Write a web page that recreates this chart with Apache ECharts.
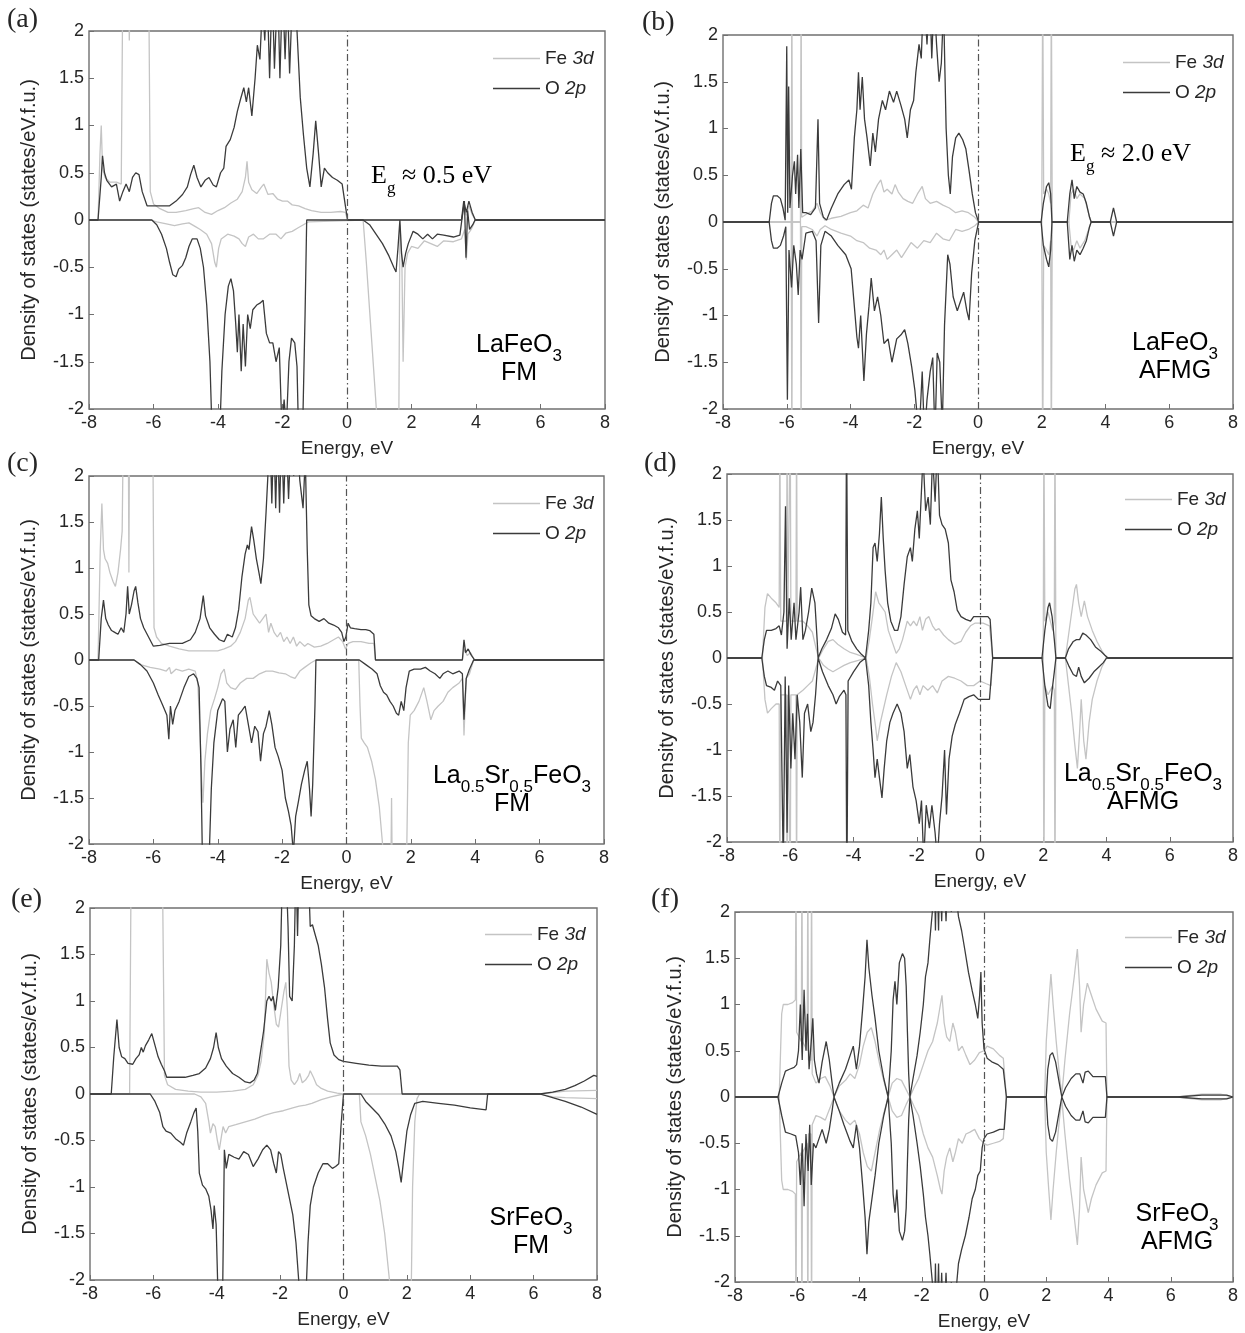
<!DOCTYPE html>
<html>
<head>
<meta charset="utf-8">
<title>Fe 3d / O 2p partial DOS</title>
<script src="https://cdn.jsdelivr.net/npm/echarts@6/dist/echarts.min.js"></script>
<style>
  html, body { margin: 0; padding: 0; background: #fff; }
  #chart { width: 1245px; height: 1333px; }
</style>
</head>
<body>
<div id="chart"></div>
<script>
// ---------- axis ticks ----------
const energyTicks = [-8, -6, -4, -2, 0, 2, 4, 6, 8];
const dosTicks = [-2, -1.5, -1, -0.5, 0, 0.5, 1, 1.5, 2];

// ---------- (a) LaFeO3, FM ----------  [energy (eV), DOS (states/eV f.u.)]
const aFeUp = [[-8,0],[-7.72,0],[-7.66,0.7],[-7.62,1.0],[-7.58,0.55],[-7.5,0.45],[-7.35,0.4],[-7.15,0.4],[-7.0,0.38],[-6.95,2.6],[-6.78,2.6],[-6.75,1.9],[-6.72,2.6],[-6.15,2.6],[-6.1,0.3],[-6.0,0.17],[-5.8,0.12],[-5.55,0.08],[-5.3,0.08],[-5.0,0.1],[-4.75,0.12],[-4.6,0.13],[-4.4,0.08],[-4.2,0.06],[-4.0,0.1],[-3.8,0.13],[-3.6,0.18],[-3.4,0.22],[-3.25,0.3],[-3.15,0.45],[-3.1,0.62],[-3.05,0.4],[-2.95,0.32],[-2.8,0.28],[-2.65,0.35],[-2.58,0.38],[-2.45,0.27],[-2.3,0.28],[-2.15,0.22],[-2.0,0.2],[-1.85,0.2],[-1.7,0.16],[-1.5,0.15],[-1.3,0.12],[-1.1,0.1],[-0.8,0.08],[-0.5,0.08],[-0.2,0.09],[-0.05,0.08],[0.02,0],[3.55,0],[3.62,0.12],[3.7,0.05],[3.78,0.15],[3.88,0.06],[3.98,0],[8,0]];
const aFeDn = [[-8,0],[-6.1,0],[-5.9,-0.02],[-5.6,-0.04],[-5.35,-0.06],[-5.1,-0.04],[-4.9,-0.03],[-4.7,-0.07],[-4.55,-0.1],[-4.35,-0.15],[-4.2,-0.25],[-4.1,-0.45],[-4.05,-0.5],[-3.98,-0.3],[-3.9,-0.2],[-3.7,-0.15],[-3.5,-0.17],[-3.35,-0.2],[-3.25,-0.25],[-3.15,-0.28],[-3.05,-0.18],[-2.9,-0.15],[-2.75,-0.2],[-2.6,-0.2],[-2.4,-0.15],[-2.2,-0.15],[-2.05,-0.2],[-1.9,-0.14],[-1.7,-0.12],[-1.5,-0.08],[-1.35,-0.05],[-1.2,-0.02],[-1.15,0],[0.5,0],[0.6,-0.45],[0.75,-1.2],[0.93,-2.1],[1.0,-2.6],[1.6,-2.6],[1.64,-0.05],[1.7,-0.4],[1.74,-1.5],[1.8,-0.5],[1.88,-0.35],[2.0,-0.28],[2.2,-0.3],[2.4,-0.22],[2.6,-0.25],[2.8,-0.28],[3.0,-0.22],[3.3,-0.23],[3.55,-0.2],[3.65,-0.1],[3.7,-0.42],[3.75,-0.15],[3.85,-0.1],[3.98,0],[8,0]];
const aOUp = [[-8,0],[-7.72,0],[-7.62,0.45],[-7.58,0.68],[-7.52,0.5],[-7.45,0.42],[-7.3,0.35],[-7.15,0.38],[-7.05,0.2],[-6.95,0.3],[-6.85,0.38],[-6.75,0.3],[-6.65,0.45],[-6.55,0.5],[-6.45,0.48],[-6.35,0.3],[-6.2,0.15],[-6.0,0.15],[-5.8,0.15],[-5.5,0.15],[-5.3,0.2],[-5.1,0.27],[-4.95,0.35],[-4.85,0.48],[-4.75,0.58],[-4.65,0.45],[-4.53,0.35],[-4.4,0.42],[-4.28,0.45],[-4.15,0.37],[-4.05,0.35],[-3.92,0.5],[-3.82,0.55],[-3.75,0.78],[-3.62,0.85],[-3.5,0.98],[-3.4,1.15],[-3.3,1.28],[-3.2,1.4],[-3.12,1.25],[-3.05,1.4],[-2.95,1.1],[-2.85,1.5],[-2.78,1.85],[-2.7,1.7],[-2.62,2.3],[-2.55,1.9],[-2.48,2.5],[-2.4,1.5],[-2.32,2.5],[-2.25,1.6],[-2.15,2.5],[-2.08,1.5],[-2.0,2.5],[-1.92,1.7],[-1.85,2.4],[-1.78,1.55],[-1.7,2.3],[-1.62,2.5],[-1.55,2.0],[-1.45,1.3],[-1.35,0.9],[-1.25,0.55],[-1.15,0.35],[-1.05,0.7],[-0.97,1.05],[-0.88,0.7],[-0.8,0.35],[-0.7,0.55],[-0.6,0.5],[-0.45,0.45],[-0.3,0.42],[-0.15,0.38],[-0.05,0.15],[0.02,0],[3.55,0],[3.62,0.2],[3.7,0.08],[3.78,0.2],[3.88,0.08],[3.98,0],[8,0]];
const aODn = [[-8,0],[-6.05,0],[-5.9,-0.05],[-5.75,-0.15],[-5.6,-0.3],[-5.5,-0.45],[-5.4,-0.58],[-5.3,-0.6],[-5.22,-0.52],[-5.1,-0.48],[-5.0,-0.4],[-4.9,-0.28],[-4.8,-0.2],[-4.65,-0.2],[-4.55,-0.3],[-4.45,-0.5],[-4.35,-0.9],[-4.25,-1.5],[-4.18,-2.3],[-3.95,-2.3],[-3.88,-1.6],[-3.78,-1.0],[-3.68,-0.7],[-3.6,-0.62],[-3.52,-0.75],[-3.45,-1.1],[-3.4,-1.4],[-3.35,-1.0],[-3.28,-1.6],[-3.22,-1.1],[-3.15,-1.55],[-3.08,-1.0],[-3.0,-1.15],[-2.92,-0.95],[-2.8,-0.9],[-2.7,-0.88],[-2.6,-0.85],[-2.5,-1.2],[-2.4,-1.3],[-2.3,-1.3],[-2.2,-1.5],[-2.1,-1.35],[-2.02,-2.2],[-1.95,-1.9],[-1.88,-2.2],[-1.8,-1.5],[-1.72,-1.25],[-1.62,-1.3],[-1.55,-1.55],[-1.5,-2.3],[-1.38,-2.3],[-1.3,-1.0],[-1.25,0],[0.5,0],[0.7,-0.05],[0.9,-0.15],[1.1,-0.25],[1.3,-0.38],[1.45,-0.5],[1.52,-0.55],[1.58,-0.3],[1.64,0],[1.69,-0.35],[1.74,-0.5],[1.82,-0.35],[1.9,-0.25],[2.05,-0.12],[2.2,-0.15],[2.35,-0.2],[2.5,-0.15],[2.65,-0.2],[2.8,-0.15],[3.0,-0.16],[3.3,-0.18],[3.5,-0.16],[3.58,0.05],[3.64,0.2],[3.69,-0.4],[3.74,0.1],[3.8,-0.1],[3.9,-0.05],[3.97,0],[8,0]];

// ---------- (b) LaFeO3, AFMG ----------
const bFeUp = [[-8,0],[-5.86,0],[-5.84,2.6],[-5.82,0],[-5.57,0],[-5.55,2.6],[-5.53,0.05],[-5.4,0.08],[-5.2,0.12],[-5.05,0.2],[-4.95,0.1],[-4.8,0.02],[-4.6,0.04],[-4.3,0.06],[-4.0,0.1],[-3.8,0.12],[-3.6,0.18],[-3.45,0.15],[-3.3,0.3],[-3.15,0.4],[-3.05,0.45],[-2.95,0.32],[-2.85,0.35],[-2.7,0.3],[-2.6,0.4],[-2.5,0.32],[-2.35,0.25],[-2.2,0.22],[-2.05,0.2],[-1.9,0.3],[-1.75,0.38],[-1.65,0.25],[-1.5,0.2],[-1.3,0.22],[-1.1,0.18],[-0.9,0.15],[-0.7,0.1],[-0.5,0.12],[-0.3,0.1],[-0.1,0.05],[0.02,0],[2.0,0],[2.03,2.6],[2.06,0.3],[2.15,0.35],[2.22,0.3],[2.28,0.2],[2.3,2.6],[2.33,0],[2.85,0],[2.92,0.3],[3.0,0.35],[3.1,0.25],[3.2,0.3],[3.35,0.25],[3.5,0.05],[3.55,0],[8,0]];
const bFeDn = [[-8,0],[-5.86,0],[-5.84,-2.6],[-5.82,0],[-5.57,0],[-5.55,-2.6],[-5.53,-0.05],[-5.4,-0.05],[-5.2,-0.08],[-5.05,-0.15],[-4.95,-0.08],[-4.8,-0.04],[-4.6,-0.08],[-4.3,-0.12],[-4.0,-0.15],[-3.8,-0.2],[-3.6,-0.22],[-3.4,-0.28],[-3.2,-0.3],[-3.05,-0.35],[-2.95,-0.3],[-2.85,-0.4],[-2.7,-0.35],[-2.55,-0.3],[-2.4,-0.38],[-2.25,-0.3],[-2.1,-0.22],[-1.9,-0.28],[-1.7,-0.2],[-1.5,-0.22],[-1.3,-0.12],[-1.1,-0.18],[-0.9,-0.2],[-0.7,-0.08],[-0.5,-0.1],[-0.3,-0.08],[-0.1,-0.04],[0.02,0],[2.0,0],[2.03,-2.6],[2.06,-0.25],[2.15,-0.3],[2.22,-0.35],[2.28,-0.2],[2.3,-2.6],[2.33,0],[2.85,0],[2.92,-0.25],[3.0,-0.3],[3.1,-0.2],[3.2,-0.28],[3.35,-0.2],[3.5,-0.05],[3.55,0],[8,0]];
const bOUp = [[-8,0],[-6.55,0],[-6.48,0.2],[-6.42,0.28],[-6.3,0.28],[-6.2,0.25],[-6.12,0.15],[-6.05,0.02],[-6.0,1.88],[-5.97,0.1],[-5.94,1.45],[-5.9,0.15],[-5.82,0.5],[-5.76,0.65],[-5.72,0.3],[-5.66,0.72],[-5.62,0.15],[-5.56,0.78],[-5.5,0.1],[-5.4,0.1],[-5.25,0.08],[-5.1,0.15],[-5.02,1.1],[-4.97,0.2],[-4.85,0.05],[-4.75,0.02],[-4.6,0.15],[-4.4,0.3],[-4.2,0.4],[-4.05,0.45],[-3.97,0.35],[-3.88,0.9],[-3.8,1.2],[-3.75,1.6],[-3.7,1.2],[-3.63,1.55],[-3.56,1.1],[-3.48,0.9],[-3.38,0.6],[-3.3,0.95],[-3.22,0.75],[-3.12,1.1],[-3.0,1.3],[-2.9,1.2],[-2.78,1.4],[-2.65,1.28],[-2.55,1.4],[-2.42,1.25],[-2.3,1.1],[-2.22,0.9],[-2.12,1.2],[-2.02,1.3],[-1.95,1.6],[-1.85,1.9],[-1.78,1.75],[-1.7,2.5],[-1.6,1.9],[-1.52,2.5],[-1.45,1.75],[-1.38,2.4],[-1.3,1.9],[-1.22,1.5],[-1.15,1.7],[-1.08,2.3],[-1.0,1.0],[-0.93,0.5],[-0.87,0.3],[-0.8,0.7],[-0.7,0.9],[-0.6,0.95],[-0.48,0.88],[-0.38,0.78],[-0.28,0.55],[-0.18,0.3],[-0.08,0.1],[0.02,0],[1.98,0],[2.05,0.2],[2.15,0.38],[2.22,0.42],[2.28,0.3],[2.32,0],[2.8,0],[2.88,0.3],[2.95,0.45],[3.02,0.25],[3.1,0.38],[3.2,0.32],[3.3,0.3],[3.4,0.2],[3.5,0.05],[3.55,0],[4.15,0],[4.25,0.15],[4.35,0],[8,0]];
const bODn = [[-8,0],[-6.55,0],[-6.48,-0.2],[-6.42,-0.28],[-6.3,-0.28],[-6.2,-0.25],[-6.1,-0.15],[-6.03,-0.05],[-5.98,-1.9],[-5.93,-0.3],[-5.85,-0.7],[-5.78,-0.25],[-5.7,-0.45],[-5.64,-0.78],[-5.58,-0.3],[-5.52,-0.4],[-5.4,-0.12],[-5.2,-0.1],[-5.08,-0.2],[-5.0,-1.08],[-4.93,-0.25],[-4.8,-0.1],[-4.6,-0.15],[-4.4,-0.25],[-4.15,-0.35],[-3.98,-0.5],[-3.88,-0.9],[-3.8,-1.23],[-3.75,-1.35],[-3.68,-1.0],[-3.58,-1.7],[-3.5,-1.2],[-3.42,-0.9],[-3.35,-0.6],[-3.25,-0.95],[-3.15,-0.8],[-3.05,-1.0],[-2.95,-1.3],[-2.82,-1.25],[-2.7,-1.5],[-2.55,-1.25],[-2.4,-1.2],[-2.3,-1.15],[-2.2,-1.3],[-2.08,-1.55],[-1.98,-1.8],[-1.85,-2.3],[-1.75,-1.6],[-1.68,-2.3],[-1.6,-1.9],[-1.5,-1.6],[-1.42,-1.45],[-1.35,-2.3],[-1.28,-1.4],[-1.2,-1.5],[-1.12,-2.2],[-1.05,-1.1],[-0.95,-0.35],[-0.88,-0.45],[-0.78,-0.8],[-0.65,-0.95],[-0.55,-0.85],[-0.45,-0.75],[-0.35,-0.95],[-0.28,-1.05],[-0.2,-0.55],[-0.1,-0.2],[0.02,0],[1.98,0],[2.05,-0.25],[2.15,-0.4],[2.22,-0.48],[2.28,-0.3],[2.32,0],[2.8,0],[2.88,-0.4],[2.95,-0.25],[3.02,-0.42],[3.1,-0.3],[3.2,-0.35],[3.3,-0.28],[3.4,-0.2],[3.5,-0.05],[3.55,0],[4.15,0],[4.25,-0.15],[4.35,0],[8,0]];

// ---------- (c) La0.5Sr0.5FeO3, FM ----------
const cFeUp = [[-8,0],[-7.72,0],[-7.65,1.2],[-7.6,1.7],[-7.55,1.2],[-7.5,1.1],[-7.42,1.05],[-7.35,0.95],[-7.25,0.85],[-7.18,0.8],[-7.1,0.95],[-7.02,1.2],[-6.97,1.4],[-6.93,2.6],[-6.78,2.6],[-6.76,0.95],[-6.74,2.6],[-6.02,2.6],[-5.98,0.35],[-5.9,0.25],[-5.75,0.18],[-5.5,0.15],[-5.2,0.12],[-4.9,0.1],[-4.6,0.1],[-4.3,0.1],[-4.0,0.1],[-3.8,0.12],[-3.6,0.15],[-3.45,0.2],[-3.3,0.3],[-3.15,0.45],[-3.05,0.65],[-3.0,0.68],[-2.9,0.5],[-2.8,0.45],[-2.7,0.4],[-2.6,0.45],[-2.5,0.5],[-2.42,0.3],[-2.35,0.4],[-2.25,0.3],[-2.15,0.25],[-2.05,0.3],[-1.95,0.2],[-1.85,0.25],[-1.75,0.18],[-1.65,0.25],[-1.55,0.15],[-1.45,0.2],[-1.3,0.15],[-1.2,0.18],[-1.0,0.14],[-0.8,0.15],[-0.6,0.18],[-0.4,0.22],[-0.25,0.25],[-0.12,0.2],[-0.03,0.12],[0.05,0.18],[0.2,0.2],[0.45,0.2],[0.7,0.18],[0.85,0.18],[0.9,0],[3.6,0],[3.65,0.12],[3.75,0.05],[3.85,0.08],[3.98,0],[8,0]];
const cFeDn = [[-8,0],[-6.6,0],[-6.4,-0.05],[-6.1,-0.08],[-5.8,-0.1],[-5.6,-0.12],[-5.5,-0.08],[-5.45,-0.15],[-5.3,-0.1],[-5.1,-0.12],[-4.9,-0.1],[-4.7,-0.12],[-4.62,-0.25],[-4.55,-0.8],[-4.5,-1.3],[-4.46,-1.55],[-4.4,-1.1],[-4.32,-0.8],[-4.22,-0.55],[-4.1,-0.42],[-4.0,-0.3],[-3.9,-0.15],[-3.8,-0.1],[-3.72,-0.25],[-3.6,-0.3],[-3.45,-0.32],[-3.3,-0.25],[-3.1,-0.2],[-2.9,-0.2],[-2.7,-0.15],[-2.5,-0.12],[-2.3,-0.12],[-2.1,-0.14],[-1.9,-0.15],[-1.75,-0.18],[-1.6,-0.2],[-1.45,-0.12],[-1.3,-0.08],[-1.1,-0.03],[-0.95,0],[0.38,0],[0.42,-0.5],[0.46,-0.85],[0.55,-0.9],[0.65,-0.95],[0.78,-1.1],[0.9,-1.3],[1.02,-1.6],[1.12,-2.0],[1.2,-2.6],[1.37,-2.6],[1.4,-1.5],[1.43,-2.6],[1.85,-2.6],[1.92,-0.9],[1.98,-0.6],[2.1,-0.55],[2.25,-0.45],[2.4,-0.3],[2.5,-0.45],[2.62,-0.65],[2.72,-0.55],[2.85,-0.5],[3.0,-0.45],[3.15,-0.35],[3.3,-0.3],[3.5,-0.25],[3.6,-0.2],[3.65,-0.82],[3.72,-0.2],[3.82,-0.15],[3.95,0],[8,0]];
const cOUp = [[-8,0],[-7.7,0],[-7.62,0.45],[-7.55,0.65],[-7.48,0.45],[-7.4,0.38],[-7.3,0.32],[-7.2,0.3],[-7.1,0.28],[-7.0,0.35],[-6.92,0.3],[-6.85,0.5],[-6.8,0.8],[-6.75,0.5],[-6.68,0.6],[-6.6,0.75],[-6.55,0.8],[-6.48,0.62],[-6.4,0.45],[-6.3,0.35],[-6.15,0.25],[-6.0,0.15],[-5.8,0.16],[-5.5,0.18],[-5.1,0.18],[-4.85,0.22],[-4.7,0.3],[-4.55,0.45],[-4.45,0.7],[-4.38,0.48],[-4.25,0.35],[-4.1,0.28],[-3.95,0.22],[-3.8,0.2],[-3.7,0.28],[-3.55,0.25],[-3.45,0.35],[-3.35,0.55],[-3.25,0.9],[-3.15,1.15],[-3.08,1.25],[-3.03,1.2],[-2.95,1.45],[-2.88,1.3],[-2.8,1.1],[-2.72,0.95],[-2.66,0.83],[-2.58,1.1],[-2.5,1.6],[-2.45,1.95],[-2.38,2.5],[-2.32,1.7],[-2.26,2.5],[-2.2,1.65],[-2.14,2.5],[-2.08,1.6],[-2.02,2.5],[-1.95,1.7],[-1.88,2.5],[-1.8,1.75],[-1.72,2.5],[-1.64,2.0],[-1.55,2.5],[-1.45,1.95],[-1.35,1.65],[-1.28,2.2],[-1.22,1.2],[-1.17,0.6],[-1.1,0.48],[-1.0,0.45],[-0.85,0.42],[-0.7,0.45],[-0.55,0.4],[-0.4,0.38],[-0.25,0.35],[-0.15,0.3],[-0.08,0.2],[-0.02,0.25],[0.05,0.4],[0.12,0.35],[0.25,0.34],[0.45,0.33],[0.6,0.33],[0.72,0.32],[0.78,0.34],[0.85,0.28],[0.9,0],[3.6,0],[3.65,0.22],[3.7,0.08],[3.78,0.12],[3.88,0.05],[3.98,0],[8,0]];
const cODn = [[-8,0],[-6.6,0],[-6.4,-0.05],[-6.2,-0.12],[-6.0,-0.25],[-5.85,-0.38],[-5.7,-0.5],[-5.58,-0.6],[-5.52,-0.86],[-5.47,-0.5],[-5.4,-0.7],[-5.33,-0.55],[-5.2,-0.45],[-5.05,-0.3],[-4.9,-0.18],[-4.75,-0.15],[-4.65,-0.2],[-4.58,-0.3],[-4.52,-1.2],[-4.47,-2.3],[-4.28,-2.3],[-4.2,-1.4],[-4.12,-0.9],[-4.0,-0.55],[-3.85,-0.42],[-3.78,-0.45],[-3.7,-1.0],[-3.62,-0.75],[-3.52,-0.65],[-3.44,-0.95],[-3.36,-0.6],[-3.25,-0.55],[-3.15,-0.5],[-3.05,-0.7],[-2.95,-0.9],[-2.85,-0.72],[-2.75,-0.78],[-2.67,-1.1],[-2.58,-0.8],[-2.5,-0.72],[-2.4,-0.55],[-2.32,-0.7],[-2.22,-0.95],[-2.12,-1.05],[-2.0,-1.2],[-1.9,-1.5],[-1.8,-1.65],[-1.72,-1.8],[-1.65,-2.1],[-1.58,-1.7],[-1.5,-1.55],[-1.4,-1.35],[-1.3,-1.2],[-1.22,-1.1],[-1.15,-1.4],[-1.1,-1.7],[-1.05,-1.35],[-0.98,-0.5],[-0.95,0],[0.4,0],[0.6,-0.05],[0.8,-0.1],[0.95,-0.15],[1.05,-0.28],[1.15,-0.35],[1.25,-0.38],[1.35,-0.45],[1.45,-0.5],[1.55,-0.58],[1.62,-0.6],[1.7,-0.45],[1.78,-0.55],[1.85,-0.3],[1.95,-0.12],[2.1,-0.1],[2.3,-0.1],[2.45,-0.08],[2.6,-0.12],[2.75,-0.15],[2.9,-0.2],[3.0,-0.15],[3.15,-0.12],[3.3,-0.15],[3.5,-0.12],[3.6,-0.15],[3.65,-0.65],[3.72,-0.2],[3.82,-0.1],[3.95,0],[8,0]];

// ---------- (d) La0.5Sr0.5FeO3, AFMG ----------
const dFeUp = [[-8,0],[-6.88,0],[-6.8,0.55],[-6.72,0.7],[-6.6,0.65],[-6.45,0.6],[-6.35,0.55],[-6.33,2.6],[-6.3,0.4],[-6.12,0.4],[-6.1,2.6],[-6.08,0.4],[-6.02,0.4],[-6.0,2.6],[-5.98,0.4],[-5.82,0.4],[-5.8,2.6],[-5.78,0.4],[-5.6,0.4],[-5.45,0.35],[-5.3,0.28],[-5.18,0.1],[-5.1,0],[-4.95,0.1],[-4.8,0.18],[-4.65,0.2],[-4.5,0.15],[-4.3,0.1],[-4.1,0.06],[-3.9,0.04],[-3.6,0],[-3.5,0.2],[-3.4,0.45],[-3.3,0.72],[-3.2,0.6],[-3.1,0.55],[-3.0,0.5],[-2.9,0.3],[-2.8,0.2],[-2.65,0.05],[-2.55,0.1],[-2.45,0.2],[-2.3,0.4],[-2.2,0.35],[-2.1,0.4],[-2.0,0.35],[-1.9,0.45],[-1.82,0.3],[-1.72,0.42],[-1.62,0.45],[-1.5,0.35],[-1.4,0.3],[-1.3,0.32],[-1.15,0.25],[-1.0,0.2],[-0.8,0.15],[-0.6,0.18],[-0.45,0.28],[-0.3,0.35],[-0.15,0.38],[0.1,0.38],[0.3,0.35],[0.4,0],[2.0,0],[2.02,2.6],[2.05,0.4],[2.15,0.5],[2.3,0.3],[2.35,0.4],[2.37,2.6],[2.4,0],[2.7,0],[2.8,0.25],[2.9,0.5],[3.0,0.75],[3.05,0.8],[3.12,0.6],[3.2,0.45],[3.3,0.62],[3.4,0.45],[3.55,0.3],[3.7,0.18],[3.85,0.08],[4.0,0],[8,0]];
const dFeDn = [[-8,0],[-6.88,0],[-6.8,-0.45],[-6.72,-0.6],[-6.6,-0.55],[-6.45,-0.5],[-6.35,-0.5],[-6.33,-2.6],[-6.3,-0.4],[-6.12,-0.4],[-6.1,-2.6],[-6.08,-0.4],[-6.02,-0.4],[-6.0,-2.6],[-5.98,-0.4],[-5.82,-0.4],[-5.8,-2.6],[-5.78,-0.4],[-5.6,-0.35],[-5.45,-0.3],[-5.3,-0.25],[-5.18,-0.1],[-5.1,0],[-4.95,-0.08],[-4.8,-0.12],[-4.65,-0.15],[-4.5,-0.12],[-4.3,-0.08],[-4.1,-0.05],[-3.9,-0.03],[-3.6,0],[-3.5,-0.2],[-3.4,-0.5],[-3.3,-0.75],[-3.25,-0.9],[-3.15,-0.7],[-3.05,-0.55],[-2.95,-0.4],[-2.8,-0.2],[-2.65,-0.05],[-2.5,-0.15],[-2.35,-0.3],[-2.2,-0.45],[-2.1,-0.35],[-2.0,-0.3],[-1.9,-0.4],[-1.8,-0.3],[-1.65,-0.35],[-1.5,-0.3],[-1.35,-0.38],[-1.2,-0.25],[-1.0,-0.2],[-0.8,-0.22],[-0.6,-0.25],[-0.4,-0.3],[-0.2,-0.3],[0.0,-0.25],[0.2,-0.28],[0.35,-0.3],[0.4,0],[2.0,0],[2.02,-2.6],[2.05,-0.3],[2.15,-0.4],[2.3,-0.3],[2.35,-0.35],[2.37,-2.6],[2.4,0],[2.7,0],[2.8,-0.3],[2.9,-0.6],[3.0,-0.95],[3.08,-1.2],[3.15,-0.8],[3.2,-0.45],[3.28,-0.9],[3.35,-1.1],[3.45,-0.7],[3.55,-0.45],[3.7,-0.25],[3.85,-0.1],[4.0,0],[8,0]];
const dOUp = [[-8,0],[-6.9,0],[-6.82,0.2],[-6.75,0.3],[-6.6,0.3],[-6.45,0.32],[-6.35,0.35],[-6.28,0.25],[-6.2,0.5],[-6.15,1.65],[-6.1,0.1],[-6.03,0.65],[-5.97,0.2],[-5.88,0.6],[-5.82,0.2],[-5.72,0.5],[-5.67,0.77],[-5.6,0.2],[-5.52,0.3],[-5.42,0.5],[-5.32,0.76],[-5.22,0.6],[-5.15,0.2],[-5.12,0],[-5.0,0.1],[-4.85,0.2],[-4.7,0.32],[-4.58,0.48],[-4.48,0.42],[-4.35,0.28],[-4.25,0.25],[-4.22,2.6],[-4.18,0.3],[-4.05,0.18],[-3.9,0.1],[-3.75,0.04],[-3.62,0],[-3.52,0.3],[-3.45,0.6],[-3.38,1.2],[-3.32,1.25],[-3.25,1.05],[-3.18,1.35],[-3.12,1.75],[-3.06,1.3],[-3.0,0.95],[-2.92,0.6],[-2.82,0.4],[-2.7,0.3],[-2.6,0.3],[-2.5,0.45],[-2.4,0.8],[-2.3,1.1],[-2.2,1.2],[-2.14,1.05],[-2.06,1.4],[-1.98,1.6],[-1.92,1.3],[-1.86,1.75],[-1.8,2.2],[-1.72,1.6],[-1.64,1.75],[-1.57,1.45],[-1.5,2.2],[-1.42,1.7],[-1.35,2.3],[-1.28,1.55],[-1.2,1.45],[-1.1,1.4],[-1.0,1.25],[-0.92,0.85],[-0.82,0.72],[-0.72,0.52],[-0.6,0.45],[-0.45,0.42],[-0.3,0.4],[-0.2,0.45],[0.0,0.45],[0.25,0.45],[0.32,0.42],[0.4,0],[1.96,0],[2.05,0.3],[2.15,0.55],[2.2,0.6],[2.28,0.45],[2.35,0.2],[2.4,0],[2.7,0],[2.8,0.1],[2.95,0.18],[3.05,0.2],[3.15,0.2],[3.25,0.27],[3.35,0.25],[3.5,0.2],[3.65,0.12],[3.8,0.08],[3.95,0.03],[4.05,0],[8,0]];
const dODn = [[-8,0],[-6.9,0],[-6.82,-0.2],[-6.75,-0.3],[-6.6,-0.32],[-6.5,-0.35],[-6.4,-0.25],[-6.3,-0.3],[-6.22,-2.3],[-6.16,-0.2],[-6.1,-1.9],[-6.05,-0.3],[-5.98,-1.2],[-5.92,-0.6],[-5.85,-1.1],[-5.78,-0.4],[-5.7,-0.7],[-5.62,-1.3],[-5.55,-0.6],[-5.45,-0.5],[-5.35,-0.8],[-5.28,-0.7],[-5.2,-0.4],[-5.12,0],[-4.98,-0.15],[-4.8,-0.3],[-4.65,-0.4],[-4.55,-0.5],[-4.45,-0.42],[-4.3,-0.35],[-4.24,-0.4],[-4.21,-2.6],[-4.17,-0.25],[-4.0,-0.15],[-3.8,-0.05],[-3.62,0],[-3.52,-0.3],[-3.45,-0.7],[-3.38,-1.0],[-3.32,-1.3],[-3.25,-1.1],[-3.18,-1.3],[-3.1,-1.52],[-3.03,-1.2],[-2.95,-0.9],[-2.85,-0.7],[-2.75,-0.6],[-2.62,-0.5],[-2.5,-0.6],[-2.4,-0.8],[-2.3,-1.2],[-2.22,-1.05],[-2.12,-1.4],[-2.02,-1.55],[-1.92,-1.8],[-1.85,-1.55],[-1.78,-2.2],[-1.7,-1.6],[-1.6,-1.85],[-1.52,-1.6],[-1.42,-1.9],[-1.35,-2.2],[-1.28,-1.8],[-1.2,-1.5],[-1.12,-1.0],[-1.06,-1.7],[-0.98,-1.1],[-0.88,-0.85],[-0.78,-0.72],[-0.65,-0.6],[-0.5,-0.45],[-0.35,-0.42],[-0.2,-0.4],[-0.05,-0.45],[0.3,-0.45],[0.4,0],[1.96,0],[2.05,-0.3],[2.15,-0.52],[2.22,-0.55],[2.28,-0.35],[2.35,-0.15],[2.4,0],[2.7,0],[2.8,-0.08],[2.95,-0.18],[3.05,-0.2],[3.12,-0.1],[3.2,-0.2],[3.3,-0.27],[3.45,-0.22],[3.6,-0.15],[3.75,-0.1],[3.9,-0.05],[4.0,0],[8,0]];

// ---------- (e) SrFeO3, FM ----------
const eFeUp = [[-8,0],[-6.75,0],[-6.7,2.6],[-5.72,2.6],[-5.65,0.2],[-5.55,0.1],[-5.3,0.05],[-4.9,0.03],[-4.5,0.02],[-4.0,0.02],[-3.5,0.03],[-3.1,0.05],[-2.85,0.1],[-2.7,0.2],[-2.6,0.35],[-2.5,0.65],[-2.42,1.45],[-2.35,1.3],[-2.28,1.2],[-2.2,0.95],[-2.12,0.75],[-2.05,0.72],[-1.97,0.9],[-1.88,1.1],[-1.82,1.2],[-1.77,0.9],[-1.72,0.3],[-1.65,0.15],[-1.55,0.1],[-1.45,0.15],[-1.38,0.22],[-1.3,0.12],[-1.2,0.15],[-1.1,0.2],[-1.05,0.25],[-0.95,0.18],[-0.85,0.1],[-0.7,0.06],[-0.5,0.03],[-0.2,0.01],[0,0],[6.2,0],[7.0,0.03],[8,0.04]];
const eFeDn = [[-8,0],[-4.7,0],[-4.5,-0.03],[-4.35,-0.1],[-4.25,-0.3],[-4.2,-0.42],[-4.12,-0.32],[-4.05,-0.35],[-3.98,-0.5],[-3.92,-0.6],[-3.85,-0.45],[-3.8,-0.35],[-3.72,-0.42],[-3.62,-0.35],[-3.4,-0.33],[-3.1,-0.3],[-2.8,-0.27],[-2.5,-0.23],[-2.2,-0.2],[-1.9,-0.18],[-1.6,-0.15],[-1.4,-0.13],[-1.2,-0.12],[-1.0,-0.1],[-0.7,-0.06],[-0.4,-0.03],[0,0],[0.5,0],[0.55,-0.3],[0.7,-0.45],[0.85,-0.65],[1.0,-0.9],[1.15,-1.15],[1.3,-1.5],[1.45,-2.0],[1.55,-2.6],[2.12,-2.6],[2.18,-1.0],[2.25,-0.3],[2.32,-0.05],[2.4,0],[6.2,0],[6.6,-0.03],[7.0,-0.04],[8,-0.05]];
const eOUp = [[-8,0],[-7.33,0],[-7.25,0.4],[-7.15,0.8],[-7.08,0.5],[-7.0,0.4],[-6.9,0.38],[-6.8,0.33],[-6.65,0.32],[-6.55,0.38],[-6.45,0.42],[-6.38,0.5],[-6.32,0.45],[-6.25,0.52],[-6.15,0.58],[-6.05,0.65],[-5.97,0.55],[-5.85,0.4],[-5.75,0.32],[-5.65,0.25],[-5.58,0.18],[-5.3,0.18],[-5.0,0.18],[-4.75,0.2],[-4.55,0.22],[-4.35,0.28],[-4.2,0.38],[-4.1,0.5],[-4.02,0.66],[-3.95,0.5],[-3.85,0.38],[-3.7,0.3],[-3.5,0.22],[-3.3,0.18],[-3.1,0.13],[-2.95,0.12],[-2.82,0.15],[-2.72,0.22],[-2.62,0.45],[-2.52,0.68],[-2.42,1.0],[-2.35,1.05],[-2.28,1.0],[-2.22,1.05],[-2.15,0.9],[-2.06,1.15],[-1.98,1.6],[-1.92,2.5],[-1.82,2.5],[-1.75,1.8],[-1.7,1.05],[-1.62,1.0],[-1.55,1.6],[-1.5,2.5],[-1.45,1.7],[-1.4,2.5],[-1.12,2.5],[-1.05,1.8],[-0.98,1.82],[-0.9,1.72],[-0.8,1.6],[-0.7,1.4],[-0.6,1.15],[-0.5,0.8],[-0.42,0.55],[-0.3,0.42],[-0.15,0.37],[0.0,0.35],[0.4,0.33],[0.8,0.31],[1.2,0.3],[1.5,0.3],[1.7,0.3],[1.78,0.26],[1.85,0],[6.2,0],[6.6,0.02],[7.0,0.05],[7.3,0.09],[7.6,0.14],[7.9,0.2],[8,0.19]];
const eODn = [[-8,0],[-6.1,0],[-5.95,-0.08],[-5.8,-0.2],[-5.7,-0.35],[-5.6,-0.4],[-5.45,-0.42],[-5.3,-0.48],[-5.15,-0.52],[-5.05,-0.55],[-4.95,-0.42],[-4.82,-0.3],[-4.72,-0.2],[-4.65,-0.15],[-4.6,-0.4],[-4.55,-0.85],[-4.45,-0.98],[-4.35,-1.02],[-4.25,-1.1],[-4.18,-1.25],[-4.12,-1.45],[-4.08,-1.2],[-4.02,-1.4],[-3.95,-2.3],[-3.82,-2.3],[-3.76,-0.6],[-3.7,-0.8],[-3.62,-0.65],[-3.45,-0.68],[-3.3,-0.7],[-3.15,-0.62],[-3.0,-0.65],[-2.85,-0.78],[-2.7,-0.7],[-2.55,-0.6],[-2.42,-0.55],[-2.3,-0.6],[-2.2,-0.75],[-2.12,-0.85],[-2.05,-0.62],[-1.98,-0.65],[-1.9,-0.8],[-1.75,-1.05],[-1.6,-1.3],[-1.5,-1.6],[-1.35,-2.3],[-1.2,-2.3],[-1.12,-1.6],[-1.05,-1.2],[-0.95,-1.0],[-0.8,-0.85],[-0.65,-0.75],[-0.5,-0.75],[-0.35,-0.8],[-0.25,-0.78],[-0.15,-0.75],[-0.08,-0.35],[0.0,0],[0.55,0],[0.7,-0.08],[0.9,-0.15],[1.1,-0.22],[1.3,-0.32],[1.5,-0.45],[1.65,-0.62],[1.75,-0.8],[1.82,-0.95],[1.9,-0.7],[2.0,-0.4],[2.12,-0.22],[2.25,-0.1],[2.5,-0.08],[3.0,-0.1],[3.5,-0.12],[4.0,-0.15],[4.5,-0.17],[4.55,0],[6.2,0],[6.6,-0.04],[7.0,-0.08],[7.5,-0.14],[8,-0.22]];

// ---------- (f) SrFeO3, AFMG ----------
const fFeUp = [[-8,0],[-6.58,0],[-6.5,0.9],[-6.45,1.0],[-6.3,1.0],[-6.15,1.02],[-6.06,1.05],[-6.04,2.6],[-6.02,0.7],[-5.87,0.6],[-5.85,2.6],[-5.83,0.6],[-5.68,0.5],[-5.66,2.6],[-5.64,0.4],[-5.56,0.4],[-5.54,2.6],[-5.52,0.25],[-5.4,0.15],[-5.25,0.2],[-5.1,0.22],[-4.95,0.12],[-4.82,0],[-4.65,0.12],[-4.45,0.18],[-4.3,0.25],[-4.15,0.2],[-4.0,0.35],[-3.88,0.55],[-3.75,0.7],[-3.62,0.75],[-3.5,0.6],[-3.35,0.35],[-3.2,0.15],[-3.08,0],[-2.95,0.15],[-2.8,0.2],[-2.65,0.18],[-2.5,0.08],[-2.38,0],[-2.25,0.1],[-2.1,0.2],[-1.95,0.35],[-1.8,0.5],[-1.65,0.6],[-1.5,0.8],[-1.4,1.0],[-1.35,1.1],[-1.28,0.8],[-1.2,0.65],[-1.1,0.6],[-1.0,0.8],[-0.92,0.7],[-0.82,0.5],[-0.7,0.55],[-0.58,0.45],[-0.45,0.35],[-0.3,0.4],[-0.15,0.48],[0.0,0.5],[0.1,0.55],[0.3,0.52],[0.5,0.45],[0.62,0.42],[0.72,0],[1.95,0],[2.0,0.6],[2.08,1.0],[2.15,1.33],[2.22,1.0],[2.32,0.6],[2.42,0.25],[2.5,0.02],[2.6,0.4],[2.75,0.9],[2.9,1.3],[3.0,1.6],[3.07,1.2],[3.12,0.7],[3.2,1.0],[3.32,1.23],[3.45,1.1],[3.6,0.95],[3.8,0.82],[3.92,0.8],[3.95,0],[6.2,0],[7.0,0.03],[7.6,0.03],[8,0]];
const fFeDn = [[-8,0],[-6.58,0],[-6.5,-0.9],[-6.45,-1.0],[-6.3,-1.0],[-6.15,-1.02],[-6.06,-1.05],[-6.04,-2.6],[-6.02,-0.7],[-5.87,-0.6],[-5.85,-2.6],[-5.83,-0.6],[-5.68,-0.5],[-5.66,-2.6],[-5.64,-0.4],[-5.56,-0.4],[-5.54,-2.6],[-5.52,-0.3],[-5.4,-0.2],[-5.25,-0.22],[-5.1,-0.25],[-4.95,-0.12],[-4.82,0],[-4.65,-0.15],[-4.45,-0.25],[-4.3,-0.3],[-4.15,-0.25],[-4.0,-0.4],[-3.88,-0.6],[-3.75,-0.75],[-3.62,-0.8],[-3.5,-0.6],[-3.35,-0.35],[-3.2,-0.15],[-3.08,0],[-2.95,-0.15],[-2.8,-0.22],[-2.65,-0.2],[-2.5,-0.08],[-2.38,0],[-2.25,-0.1],[-2.1,-0.2],[-1.95,-0.4],[-1.8,-0.55],[-1.65,-0.65],[-1.5,-0.85],[-1.4,-1.0],[-1.35,-1.05],[-1.28,-0.8],[-1.2,-0.65],[-1.1,-0.55],[-1.0,-0.7],[-0.92,-0.6],[-0.82,-0.45],[-0.7,-0.5],[-0.58,-0.4],[-0.45,-0.38],[-0.3,-0.35],[-0.15,-0.45],[0.0,-0.5],[0.1,-0.52],[0.3,-0.5],[0.5,-0.48],[0.62,-0.45],[0.72,0],[1.95,0],[2.0,-0.6],[2.08,-1.0],[2.15,-1.33],[2.22,-1.0],[2.32,-0.6],[2.42,-0.25],[2.5,-0.02],[2.6,-0.4],[2.75,-0.9],[2.9,-1.3],[3.0,-1.6],[3.07,-1.2],[3.12,-0.65],[3.2,-1.0],[3.35,-1.25],[3.45,-1.1],[3.6,-0.95],[3.8,-0.82],[3.92,-0.8],[3.95,0],[6.2,0],[7.0,-0.03],[7.6,-0.03],[8,0]];
const fOUp = [[-8,0],[-6.62,0],[-6.5,0.15],[-6.38,0.28],[-6.25,0.3],[-6.1,0.32],[-6.02,0.35],[-5.96,0.5],[-5.9,1.0],[-5.84,0.4],[-5.78,1.16],[-5.72,0.5],[-5.67,0.9],[-5.62,0.3],[-5.55,0.6],[-5.5,0.85],[-5.45,0.4],[-5.38,0.25],[-5.3,0.15],[-5.2,0.38],[-5.07,0.6],[-4.97,0.4],[-4.88,0.15],[-4.82,0],[-4.65,0.15],[-4.45,0.3],[-4.3,0.45],[-4.2,0.55],[-4.1,0.3],[-4.0,0.55],[-3.9,0.95],[-3.82,1.3],[-3.76,1.7],[-3.7,1.4],[-3.6,1.1],[-3.5,0.85],[-3.38,0.5],[-3.22,0.2],[-3.08,0],[-2.98,0.5],[-2.92,1.05],[-2.86,1.25],[-2.8,1.0],[-2.72,1.45],[-2.62,1.55],[-2.55,1.5],[-2.5,1.2],[-2.46,0.7],[-2.42,0.25],[-2.38,0],[-2.28,0.2],[-2.15,0.45],[-2.05,0.7],[-1.95,1.0],[-1.88,1.3],[-1.8,1.45],[-1.74,1.7],[-1.66,2.0],[-1.6,2.6],[-1.56,1.8],[-1.52,2.6],[-1.46,1.8],[-1.42,2.6],[-1.36,1.9],[-1.3,2.6],[-1.22,1.9],[-1.15,2.6],[-1.05,2.0],[-0.98,2.6],[-0.9,2.2],[-0.82,1.95],[-0.72,1.8],[-0.62,1.6],[-0.5,1.35],[-0.38,1.15],[-0.28,1.0],[-0.2,0.85],[-0.14,1.1],[-0.1,1.35],[-0.06,0.8],[0.0,0.52],[0.1,0.42],[0.25,0.38],[0.45,0.35],[0.62,0.3],[0.72,0],[2.0,0],[2.05,0.3],[2.12,0.45],[2.2,0.48],[2.3,0.38],[2.42,0.15],[2.5,0],[2.62,0.1],[2.8,0.2],[2.95,0.25],[3.08,0.25],[3.18,0.15],[3.25,0.27],[3.35,0.28],[3.5,0.22],[3.7,0.22],[3.9,0.22],[3.95,0],[6.2,0],[7.0,0.02],[7.8,0.02],[8,0]];
const fODn = [[-8,0],[-6.62,0],[-6.5,-0.2],[-6.38,-0.38],[-6.2,-0.4],[-6.05,-0.42],[-5.96,-0.6],[-5.9,-0.95],[-5.84,-0.5],[-5.78,-1.18],[-5.72,-0.4],[-5.65,-0.8],[-5.6,-0.3],[-5.55,-0.95],[-5.48,-0.5],[-5.4,-0.55],[-5.3,-0.45],[-5.2,-0.35],[-5.07,-0.5],[-4.97,-0.35],[-4.88,-0.15],[-4.82,0],[-4.65,-0.15],[-4.5,-0.3],[-4.3,-0.48],[-4.2,-0.55],[-4.1,-0.3],[-4.0,-0.55],[-3.9,-0.95],[-3.82,-1.3],[-3.76,-1.7],[-3.7,-1.35],[-3.6,-1.1],[-3.5,-0.85],[-3.38,-0.5],[-3.22,-0.2],[-3.08,0],[-2.98,-0.5],[-2.92,-1.05],[-2.86,-1.25],[-2.8,-1.0],[-2.72,-1.45],[-2.62,-1.55],[-2.55,-1.45],[-2.5,-1.2],[-2.46,-0.7],[-2.42,-0.25],[-2.38,0],[-2.28,-0.2],[-2.15,-0.5],[-2.05,-0.75],[-1.95,-1.05],[-1.88,-1.3],[-1.8,-1.5],[-1.74,-1.7],[-1.66,-2.0],[-1.6,-2.6],[-1.56,-1.8],[-1.52,-2.6],[-1.46,-1.8],[-1.42,-2.6],[-1.36,-1.9],[-1.3,-2.6],[-1.22,-1.9],[-1.15,-2.6],[-1.05,-2.0],[-0.98,-2.6],[-0.9,-2.1],[-0.82,-1.8],[-0.72,-1.65],[-0.6,-1.5],[-0.48,-1.3],[-0.38,-1.1],[-0.28,-1.0],[-0.2,-0.85],[-0.12,-0.8],[-0.06,-0.55],[0.0,-0.45],[0.1,-0.4],[0.3,-0.38],[0.5,-0.35],[0.65,-0.35],[0.72,0],[2.0,0],[2.05,-0.3],[2.12,-0.45],[2.2,-0.48],[2.3,-0.38],[2.42,-0.15],[2.5,0],[2.62,-0.1],[2.8,-0.2],[2.95,-0.25],[3.08,-0.25],[3.18,-0.15],[3.25,-0.27],[3.35,-0.28],[3.5,-0.22],[3.7,-0.22],[3.9,-0.22],[3.95,0],[6.2,0],[7.0,-0.02],[7.8,-0.02],[8,0]];

// ---------- text ----------
const panelLetters = ['(a)', '(b)', '(c)', '(d)', '(e)', '(f)'];
const compounds = ['{n|LaFeO}{s|3}', '{n|LaFeO}{s|3}', '{n|La}{s|0.5}{n|Sr}{s|0.5}{n|FeO}{s|3}',
                   '{n|La}{s|0.5}{n|Sr}{s|0.5}{n|FeO}{s|3}', '{n|SrFeO}{s|3}', '{n|SrFeO}{s|3}'];
const orderings = ['FM', 'AFMG', 'FM', 'AFMG', 'FM', 'AFMG'];
const gapLabels = ['0.5', '2.0'];

// ---------- layout / style ----------
const FE_COLOR = '#c4c4c4';
const O_COLOR = '#3b3b3b';
const SANS = '"Liberation Sans", Arial, sans-serif';
const SERIF = '"Liberation Serif", "Times New Roman", serif';
const TEXT = '#262626';

const panels = [
  { rect: [89, 31, 516, 378],  curves: [aFeUp, aFeDn, aOUp, aODn], legend: [488, 44],   letter: [7, 6],     label: [519, 333], gap: [371, 163] },
  { rect: [723, 35, 510, 374], curves: [bFeUp, bFeDn, bOUp, bODn], legend: [1118, 48],  letter: [642, 9],   label: [1175, 331], gap: [1070, 141] },
  { rect: [89, 476, 515, 368], curves: [cFeUp, cFeDn, cOUp, cODn], legend: [488, 489],  letter: [7, 450],   label: [512, 764] },
  { rect: [727, 474, 506, 368], curves: [dFeUp, dFeDn, dOUp, dODn], legend: [1120, 485], letter: [644, 450], label: [1143, 762] },
  { rect: [90, 908, 507, 372], curves: [eFeUp, eFeDn, eOUp, eODn], legend: [480, 920],  letter: [11, 886],  label: [531, 1206] },
  { rect: [735, 912, 498, 370], curves: [fFeUp, fFeDn, fOUp, fODn], legend: [1120, 923], letter: [651, 886], label: [1177, 1202] }
];

const grids = [], xAxes = [], yAxes = [], series = [], legends = [], graphics = [];

panels.forEach((p, i) => {
  const [l, t, w, h] = p.rect;
  grids.push({ left: l, top: t, width: w, height: h, show: true, borderColor: '#707070', borderWidth: 1.4,
               backgroundColor: 'transparent', containLabel: false, outerBoundsMode: 'none' });
  xAxes.push({
    gridIndex: i, type: 'value', min: energyTicks[0], max: energyTicks[energyTicks.length - 1], interval: 2,
    name: 'Energy, eV', nameLocation: 'middle', nameGap: 30,
    nameTextStyle: { fontFamily: SANS, fontSize: 19, color: TEXT },
    axisLine: { show: false, onZero: false }, splitLine: { show: false },
    axisTick: { show: true, inside: true, length: 5, lineStyle: { color: '#707070', width: 1 } },
    axisLabel: { fontFamily: SANS, fontSize: 18, color: TEXT, margin: 5, showMinLabel: true, showMaxLabel: true }
  });
  yAxes.push({
    gridIndex: i, type: 'value', min: dosTicks[0], max: dosTicks[dosTicks.length - 1], interval: 0.5,
    name: 'Density of states (states/eV.f.u.)', nameLocation: 'middle', nameGap: 50, nameRotate: 90,
    nameTextStyle: { fontFamily: SANS, fontSize: 20, color: TEXT },
    axisLine: { show: false, onZero: false }, splitLine: { show: false },
    axisTick: { show: true, inside: true, length: 5, lineStyle: { color: '#707070', width: 1 } },
    axisLabel: { fontFamily: SANS, fontSize: 18, color: TEXT, margin: 5, showMinLabel: true, showMaxLabel: true }
  });

  const names = ['Fe 3d', 'Fe 3d', 'O 2p', 'O 2p'];
  p.curves.forEach((data, k) => {
    const isFe = k < 2;
    const s = {
      type: 'line', name: names[k], xAxisIndex: i, yAxisIndex: i, data: data,
      symbol: 'none', showSymbol: false, clip: true, animation: false, silent: true,
      z: isFe ? 2 : 3,
      lineStyle: { color: isFe ? FE_COLOR : O_COLOR, width: 1.3 },
      itemStyle: { color: isFe ? FE_COLOR : O_COLOR }
    };
    if (k === 2) {
      // Fermi level
      s.markLine = {
        silent: true, symbol: ['none', 'none'], animation: false, label: { show: false },
        lineStyle: { color: '#555', width: 1.2, type: [7, 3, 1.5, 3] },
        data: [{ xAxis: 0 }]
      };
    }
    series.push(s);
  });

  legends.push({
    left: p.legend[0], top: p.legend[1], orient: 'vertical', itemGap: 11,
    itemWidth: 47, itemHeight: 19, icon: 'path://M0,9 L47,9 L47,10.6 L0,10.6 Z',
    data: [{ name: 'Fe 3d', itemStyle: { color: FE_COLOR } }, { name: 'O 2p', itemStyle: { color: O_COLOR } }],
    selectedMode: false,
    formatter: n => n === 'Fe 3d' ? '{t|Fe }{i|3d}' : '{t|O }{i|2p}',
    textStyle: {
      fontFamily: SANS, fontSize: 19, color: TEXT,
      rich: { t: { fontFamily: SANS, fontSize: 19, color: TEXT },
              i: { fontFamily: SANS, fontSize: 19, color: TEXT, fontStyle: 'italic' } }
    }
  });

  graphics.push({
    type: 'text', x: p.letter[0], y: p.letter[1], silent: true,
    style: { text: panelLetters[i], font: '28px ' + SERIF, fill: TEXT }
  });
  graphics.push({
    type: 'text', x: p.label[0], y: p.label[1], silent: true,
    style: {
      text: compounds[i] + '\n{n|' + orderings[i] + '}', align: 'center', verticalAlign: 'top',
      rich: {
        n: { fontFamily: SANS, fontSize: 25, lineHeight: 28, color: TEXT, verticalAlign: 'top' },
        s: { fontFamily: SANS, fontSize: 17, lineHeight: 17, color: TEXT, verticalAlign: 'bottom', padding: [0, 0, -4, 0] }
      }
    }
  });
  if (p.gap) {
    graphics.push({
      type: 'text', x: p.gap[0], y: p.gap[1], silent: true,
      style: {
        text: '{n|E}{s|g}{n| \u2248 ' + gapLabels[i] + ' eV}', align: 'left', verticalAlign: 'top',
        rich: {
          n: { fontFamily: SERIF, fontSize: 26, lineHeight: 28, color: TEXT, verticalAlign: 'top' },
          s: { fontFamily: SERIF, fontSize: 17, lineHeight: 17, color: TEXT, verticalAlign: 'bottom', padding: [0, 0, -6, 0] }
        }
      }
    });
  }
});

const chart = echarts.init(document.getElementById('chart'), null, { renderer: 'canvas' });
chart.setOption({
  animation: false,
  backgroundColor: '#ffffff',
  grid: grids, xAxis: xAxes, yAxis: yAxes, series: series, legend: legends, graphic: graphics
});
</script>
</body>
</html>
